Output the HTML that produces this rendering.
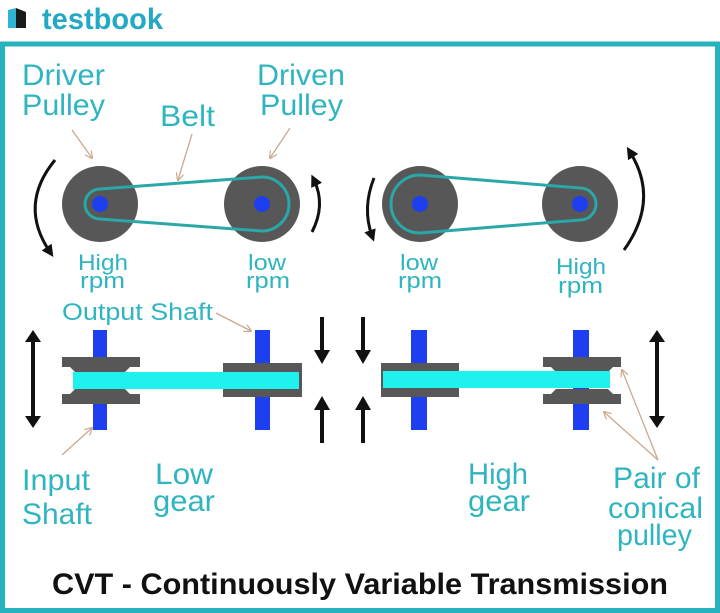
<!DOCTYPE html>
<html><head><meta charset="utf-8"><style>
html,body{margin:0;padding:0;background:#fff;width:720px;height:613px;overflow:hidden}
svg{display:block}
.t{font-family:"Liberation Sans",Arial,sans-serif;fill:#2fb5bf}
</style></head><body>
<svg width="720" height="613" viewBox="0 0 720 613" xmlns="http://www.w3.org/2000/svg">
<defs>
<marker id="ah" markerWidth="4" markerHeight="4" refX="2" refY="2" orient="auto" markerUnits="strokeWidth"><path d="M0,0 L4,2 L0,4 z" fill="#111"/></marker>
<marker id="pa" markerWidth="8" markerHeight="8" refX="7" refY="4" orient="auto" markerUnits="userSpaceOnUse"><path d="M0,0 L8,4 L0,8" fill="none" stroke="#c9a98f" stroke-width="1.2"/></marker>
</defs>
<rect width="720" height="613" fill="#fff"/>
<path d="M8,10 L16,8 L16,28 L8,28 z" fill="#2fb5d4"/>
<path d="M16,8 L26,12 L26,28 L16,28 z" fill="#1a1a1a"/>
<text x="42" y="29" font-family="Liberation Sans,Arial,sans-serif" font-size="30" font-weight="bold" fill="#23a9c4" textLength="121" lengthAdjust="spacingAndGlyphs">testbook</text>
<rect x="2.5" y="44" width="715" height="566.5" fill="none" stroke="#26b3bf" stroke-width="5"/>

<circle cx="100" cy="204" r="38" fill="#575757"/>
<circle cx="262" cy="204" r="38" fill="#575757"/>
<path d="M100,189 L262,177 A27,27 0 0 1 262,231 L100,219 A15,15 0 0 1 100,189 z" fill="none" stroke="#2aa7a7" stroke-width="3"/>
<circle cx="100" cy="204" r="8" fill="#1d3ff0"/>
<circle cx="262" cy="204" r="8" fill="#1d3ff0"/>
<circle cx="420" cy="204" r="38" fill="#575757"/>
<circle cx="580" cy="204" r="38" fill="#575757"/>
<path d="M420,175 L580,188 A16,16 0 0 1 580,220 L420,233 A29,29 0 0 1 420,175 z" fill="none" stroke="#2aa7a7" stroke-width="3"/>
<circle cx="420" cy="204" r="8" fill="#1d3ff0"/>
<circle cx="580" cy="204" r="8" fill="#1d3ff0"/>

<path d="M55,160 Q18,205 50,252" fill="none" stroke="#111" stroke-width="3" marker-end="url(#ah)"/>
<path d="M312,232 Q326,205 314,180" fill="none" stroke="#111" stroke-width="3" marker-end="url(#ah)"/>
<path d="M374,178 Q362,208 372,236" fill="none" stroke="#111" stroke-width="3" marker-end="url(#ah)"/>
<path d="M624,250 Q660,200 630,152" fill="none" stroke="#111" stroke-width="3" marker-end="url(#ah)"/>

<g class="t" font-size="30">
<text x="22" y="85" textLength="83" lengthAdjust="spacingAndGlyphs">Driver</text>
<text x="22" y="115" textLength="83" lengthAdjust="spacingAndGlyphs">Pulley</text>
<text x="160" y="126" textLength="55" lengthAdjust="spacingAndGlyphs">Belt</text>
<text x="257" y="85" textLength="88" lengthAdjust="spacingAndGlyphs">Driven</text>
<text x="260" y="115" textLength="83" lengthAdjust="spacingAndGlyphs">Pulley</text>
</g>
<g class="t" font-size="22">
<text x="78" y="270" textLength="50" lengthAdjust="spacingAndGlyphs">High</text><text x="80" y="288" textLength="45" lengthAdjust="spacingAndGlyphs">rpm</text>
<text x="248" y="270" textLength="38" lengthAdjust="spacingAndGlyphs">low</text><text x="246" y="288" textLength="44" lengthAdjust="spacingAndGlyphs">rpm</text>
<text x="400" y="270" textLength="38" lengthAdjust="spacingAndGlyphs">low</text><text x="398" y="288" textLength="44" lengthAdjust="spacingAndGlyphs">rpm</text>
<text x="556" y="274" textLength="50" lengthAdjust="spacingAndGlyphs">High</text><text x="558" y="293" textLength="45" lengthAdjust="spacingAndGlyphs">rpm</text>
</g>
<line x1="72" y1="130" x2="92" y2="158" stroke="#c9a98f" stroke-width="1.3" marker-end="url(#pa)"/>
<line x1="192" y1="134" x2="178" y2="180" stroke="#c9a98f" stroke-width="1.3" marker-end="url(#pa)"/>
<line x1="290" y1="128" x2="270" y2="158" stroke="#c9a98f" stroke-width="1.3" marker-end="url(#pa)"/>

<rect x="93" y="330" width="14" height="100" fill="#1d3ff0"/>
<rect x="255" y="330" width="15" height="100" fill="#1d3ff0"/>
<path d="M62,357 H140 V367 H130 L125,372 H75 L70,367 H62 z" fill="#575757"/>
<path d="M62,404 H140 V394 H130 L125,389 H75 L70,394 H62 z" fill="#575757"/>
<rect x="223" y="363" width="79" height="34" fill="#575757"/>
<rect x="73" y="372" width="226" height="17" fill="#1ff2ee"/>
<rect x="411" y="330" width="16" height="100" fill="#1d3ff0"/>
<rect x="573" y="330" width="16" height="100" fill="#1d3ff0"/>
<rect x="381" y="363" width="78" height="34" fill="#575757"/>
<path d="M543,357 H621 V367 H613 L608,372 H556 L551,367 H543 z" fill="#575757"/>
<path d="M543,404 H621 V394 H613 L608,389 H556 L551,394 H543 z" fill="#575757"/>
<rect x="383" y="371" width="227" height="17" fill="#1ff2ee"/>

<g stroke="#111" stroke-width="4" fill="#111">
<line x1="33" y1="340" x2="33" y2="418"/>
<line x1="657" y1="340" x2="657" y2="418"/>
<line x1="322" y1="317" x2="322" y2="352"/>
<line x1="363" y1="317" x2="363" y2="352"/>
<line x1="322" y1="408" x2="322" y2="443"/>
<line x1="363" y1="408" x2="363" y2="443"/>
</g>
<g fill="#111">
<path d="M25,342 L33,330 L41,342 z"/><path d="M25,416 L33,428 L41,416 z"/>
<path d="M649,342 L657,330 L665,342 z"/><path d="M649,416 L657,428 L665,416 z"/>
<path d="M314,350 L322,364 L330,350 z"/><path d="M355,350 L363,364 L371,350 z"/>
<path d="M314,410 L322,396 L330,410 z"/><path d="M355,410 L363,396 L371,410 z"/>
</g>

<text x="62" y="320" class="t" font-size="24" textLength="151" lengthAdjust="spacingAndGlyphs">Output Shaft</text>
<line x1="216" y1="313" x2="251" y2="331" stroke="#c9a98f" stroke-width="1.3" marker-end="url(#pa)"/>
<line x1="62" y1="455" x2="92" y2="428" stroke="#c9a98f" stroke-width="1.3" marker-end="url(#pa)"/>
<line x1="658" y1="460" x2="622" y2="370" stroke="#c9a98f" stroke-width="1.3" marker-end="url(#pa)"/>
<line x1="658" y1="460" x2="604" y2="412" stroke="#c9a98f" stroke-width="1.3" marker-end="url(#pa)"/>
<g class="t" font-size="30">
<text x="22" y="490" textLength="68" lengthAdjust="spacingAndGlyphs">Input</text>
<text x="22" y="524" textLength="70" lengthAdjust="spacingAndGlyphs">Shaft</text>
<text x="155" y="484" textLength="58" lengthAdjust="spacingAndGlyphs">Low</text>
<text x="153" y="511" textLength="62" lengthAdjust="spacingAndGlyphs">gear</text>
<text x="468" y="484" textLength="60" lengthAdjust="spacingAndGlyphs">High</text>
<text x="468" y="511" textLength="62" lengthAdjust="spacingAndGlyphs">gear</text>
<text x="613" y="488" textLength="87" lengthAdjust="spacingAndGlyphs">Pair of</text>
<text x="608" y="518" textLength="95" lengthAdjust="spacingAndGlyphs">conical</text>
<text x="617" y="545" textLength="75" lengthAdjust="spacingAndGlyphs">pulley</text>
</g>
<text x="52" y="594" font-family="Liberation Sans,Arial,sans-serif" font-size="30" font-weight="bold" fill="#111" textLength="616" lengthAdjust="spacingAndGlyphs">CVT - Continuously Variable Transmission</text>
</svg>
</body></html>
